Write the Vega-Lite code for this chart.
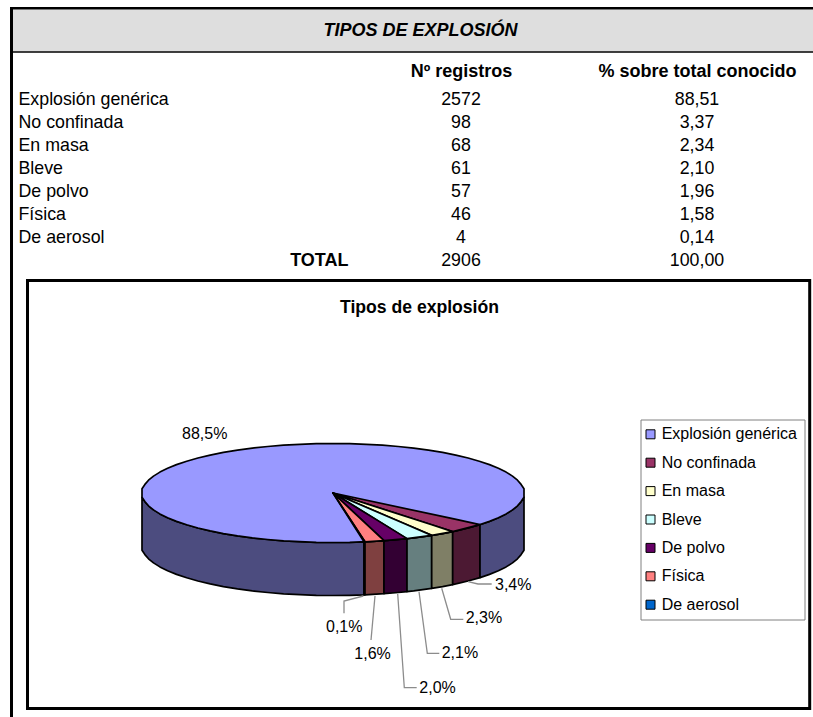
{
  "$schema": "https://vega.github.io/schema/vega-lite/v6.json",
  "width": 813,
  "height": 717,
  "padding": 0,
  "autosize": {"type": "fit", "contains": "padding"},
  "background": "white",
  "config": {
    "view": {"stroke": null},
    "text": {"font": "Liberation Sans", "color": "#000000", "baseline": "alphabetic"}
  },
  "datasets": {
    "tabla": [
      {"tipo": "Explosión genérica", "registros": 2572, "porcentaje": "88,51"},
      {"tipo": "No confinada", "registros": 98, "porcentaje": "3,37"},
      {"tipo": "En masa", "registros": 68, "porcentaje": "2,34"},
      {"tipo": "Bleve", "registros": 61, "porcentaje": "2,10"},
      {"tipo": "De polvo", "registros": 57, "porcentaje": "1,96"},
      {"tipo": "Física", "registros": 46, "porcentaje": "1,58"},
      {"tipo": "De aerosol", "registros": 4, "porcentaje": "0,14"},
      {"tipo": "TOTAL", "registros": 2906, "porcentaje": "100,00"}
    ],
    "lateral": [
      {"tipo": "Explosión genérica", "tramo": "izquierda", "u": 142, "sup": 497.3, "inf": 550.3},
      {"tipo": "Explosión genérica", "tramo": "izquierda", "u": 144.9, "sup": 501.6, "inf": 554.6},
      {"tipo": "Explosión genérica", "tramo": "izquierda", "u": 148.5, "sup": 505.8, "inf": 558.8},
      {"tipo": "Explosión genérica", "tramo": "izquierda", "u": 153.5, "sup": 509.9, "inf": 562.9},
      {"tipo": "Explosión genérica", "tramo": "izquierda", "u": 159.9, "sup": 513.9, "inf": 566.9},
      {"tipo": "Explosión genérica", "tramo": "izquierda", "u": 167.6, "sup": 517.8, "inf": 570.8},
      {"tipo": "Explosión genérica", "tramo": "izquierda", "u": 176.5, "sup": 521.4, "inf": 574.4},
      {"tipo": "Explosión genérica", "tramo": "izquierda", "u": 186.7, "sup": 524.8, "inf": 577.8},
      {"tipo": "Explosión genérica", "tramo": "izquierda", "u": 197.9, "sup": 528, "inf": 581},
      {"tipo": "Explosión genérica", "tramo": "izquierda", "u": 210.2, "sup": 530.9, "inf": 583.9},
      {"tipo": "Explosión genérica", "tramo": "izquierda", "u": 223.4, "sup": 533.6, "inf": 586.6},
      {"tipo": "Explosión genérica", "tramo": "izquierda", "u": 237.5, "sup": 535.9, "inf": 588.9},
      {"tipo": "Explosión genérica", "tramo": "izquierda", "u": 252.3, "sup": 537.9, "inf": 590.9},
      {"tipo": "Explosión genérica", "tramo": "izquierda", "u": 267.7, "sup": 539.5, "inf": 592.5},
      {"tipo": "Explosión genérica", "tramo": "izquierda", "u": 283.6, "sup": 540.8, "inf": 593.8},
      {"tipo": "Explosión genérica", "tramo": "izquierda", "u": 299.8, "sup": 541.7, "inf": 594.7},
      {"tipo": "Explosión genérica", "tramo": "izquierda", "u": 316.3, "sup": 542.3, "inf": 595.3},
      {"tipo": "Explosión genérica", "tramo": "izquierda", "u": 333, "sup": 542.5, "inf": 595.5},
      {"tipo": "Explosión genérica", "tramo": "izquierda", "u": 349.7, "sup": 542.3, "inf": 595.3},
      {"tipo": "Explosión genérica", "tramo": "izquierda", "u": 364, "sup": 541.9, "inf": 594.9},
      {"tipo": "De aerosol", "tramo": "unico", "u": 364, "sup": 541.9, "inf": 594.9},
      {"tipo": "De aerosol", "tramo": "unico", "u": 365, "sup": 541.8, "inf": 594.8},
      {"tipo": "Física", "tramo": "unico", "u": 365, "sup": 541.8, "inf": 594.8},
      {"tipo": "Física", "tramo": "unico", "u": 384, "sup": 540.7, "inf": 593.7},
      {"tipo": "De polvo", "tramo": "unico", "u": 384, "sup": 540.7, "inf": 593.7},
      {"tipo": "De polvo", "tramo": "unico", "u": 398.3, "sup": 539.5, "inf": 592.5},
      {"tipo": "De polvo", "tramo": "unico", "u": 407, "sup": 538.6, "inf": 591.6},
      {"tipo": "Bleve", "tramo": "unico", "u": 407, "sup": 538.6, "inf": 591.6},
      {"tipo": "Bleve", "tramo": "unico", "u": 413.7, "sup": 537.9, "inf": 590.9},
      {"tipo": "Bleve", "tramo": "unico", "u": 431.7, "sup": 535.4, "inf": 588.4},
      {"tipo": "En masa", "tramo": "unico", "u": 431.7, "sup": 535.4, "inf": 588.4},
      {"tipo": "En masa", "tramo": "unico", "u": 442.6, "sup": 533.6, "inf": 586.6},
      {"tipo": "En masa", "tramo": "unico", "u": 452.7, "sup": 531.6, "inf": 584.6},
      {"tipo": "No confinada", "tramo": "unico", "u": 452.7, "sup": 531.6, "inf": 584.6},
      {"tipo": "No confinada", "tramo": "unico", "u": 468.1, "sup": 528, "inf": 581},
      {"tipo": "No confinada", "tramo": "unico", "u": 480, "sup": 524.6, "inf": 577.6},
      {"tipo": "Explosión genérica", "tramo": "derecha", "u": 480, "sup": 524.6, "inf": 577.6},
      {"tipo": "Explosión genérica", "tramo": "derecha", "u": 489.5, "sup": 521.4, "inf": 574.4},
      {"tipo": "Explosión genérica", "tramo": "derecha", "u": 498.4, "sup": 517.8, "inf": 570.8},
      {"tipo": "Explosión genérica", "tramo": "derecha", "u": 506.1, "sup": 513.9, "inf": 566.9},
      {"tipo": "Explosión genérica", "tramo": "derecha", "u": 512.5, "sup": 509.9, "inf": 562.9},
      {"tipo": "Explosión genérica", "tramo": "derecha", "u": 517.5, "sup": 505.8, "inf": 558.8},
      {"tipo": "Explosión genérica", "tramo": "derecha", "u": 521.1, "sup": 501.6, "inf": 554.6},
      {"tipo": "Explosión genérica", "tramo": "derecha", "u": 524, "sup": 497.3, "inf": 550.3}
    ],
    "cara": [
      {"tipo": "Explosión genérica", "u": 142, "sup": 488.7, "inf": 497.3},
      {"tipo": "Explosión genérica", "u": 144.9, "sup": 484.4, "inf": 501.6},
      {"tipo": "Explosión genérica", "u": 148.5, "sup": 480.2, "inf": 505.8},
      {"tipo": "Explosión genérica", "u": 153.5, "sup": 476.1, "inf": 509.9},
      {"tipo": "Explosión genérica", "u": 159.9, "sup": 472.1, "inf": 513.9},
      {"tipo": "Explosión genérica", "u": 167.6, "sup": 468.2, "inf": 517.8},
      {"tipo": "Explosión genérica", "u": 176.5, "sup": 464.6, "inf": 521.4},
      {"tipo": "Explosión genérica", "u": 186.7, "sup": 461.2, "inf": 524.8},
      {"tipo": "Explosión genérica", "u": 197.9, "sup": 458, "inf": 528},
      {"tipo": "Explosión genérica", "u": 210.2, "sup": 455.1, "inf": 530.9},
      {"tipo": "Explosión genérica", "u": 223.4, "sup": 452.4, "inf": 533.6},
      {"tipo": "Explosión genérica", "u": 237.5, "sup": 450.1, "inf": 535.9},
      {"tipo": "Explosión genérica", "u": 252.3, "sup": 448.1, "inf": 537.9},
      {"tipo": "Explosión genérica", "u": 267.7, "sup": 446.5, "inf": 539.5},
      {"tipo": "Explosión genérica", "u": 283.6, "sup": 445.2, "inf": 540.8},
      {"tipo": "Explosión genérica", "u": 299.8, "sup": 444.3, "inf": 541.7},
      {"tipo": "Explosión genérica", "u": 316.3, "sup": 443.7, "inf": 542.3},
      {"tipo": "Explosión genérica", "u": 333, "sup": 443.5, "inf": 542.5},
      {"tipo": "Explosión genérica", "u": 349.7, "sup": 443.7, "inf": 542.3},
      {"tipo": "Explosión genérica", "u": 366.2, "sup": 444.3, "inf": 541.7},
      {"tipo": "Explosión genérica", "u": 382.4, "sup": 445.2, "inf": 540.8},
      {"tipo": "Explosión genérica", "u": 398.3, "sup": 446.5, "inf": 539.5},
      {"tipo": "Explosión genérica", "u": 413.7, "sup": 448.1, "inf": 537.9},
      {"tipo": "Explosión genérica", "u": 428.5, "sup": 450.1, "inf": 535.9},
      {"tipo": "Explosión genérica", "u": 442.6, "sup": 452.4, "inf": 533.6},
      {"tipo": "Explosión genérica", "u": 455.8, "sup": 455.1, "inf": 530.9},
      {"tipo": "Explosión genérica", "u": 468.1, "sup": 458, "inf": 528},
      {"tipo": "Explosión genérica", "u": 479.3, "sup": 461.2, "inf": 524.8},
      {"tipo": "Explosión genérica", "u": 489.5, "sup": 464.6, "inf": 521.4},
      {"tipo": "Explosión genérica", "u": 498.4, "sup": 468.2, "inf": 517.8},
      {"tipo": "Explosión genérica", "u": 506.1, "sup": 472.1, "inf": 513.9},
      {"tipo": "Explosión genérica", "u": 512.5, "sup": 476.1, "inf": 509.9},
      {"tipo": "Explosión genérica", "u": 517.5, "sup": 480.2, "inf": 505.8},
      {"tipo": "Explosión genérica", "u": 521.1, "sup": 484.4, "inf": 501.6},
      {"tipo": "Explosión genérica", "u": 524, "sup": 488.7, "inf": 497.3},
      {"tipo": "No confinada", "u": 333, "sup": 493, "inf": 493},
      {"tipo": "No confinada", "u": 452.7, "sup": 518.7, "inf": 531.6},
      {"tipo": "No confinada", "u": 480, "sup": 524.6, "inf": 524.6},
      {"tipo": "En masa", "u": 333, "sup": 493, "inf": 493},
      {"tipo": "En masa", "u": 431.7, "sup": 524.8, "inf": 535.4},
      {"tipo": "En masa", "u": 452.7, "sup": 531.6, "inf": 531.6},
      {"tipo": "Bleve", "u": 333, "sup": 493, "inf": 493},
      {"tipo": "Bleve", "u": 407, "sup": 524.8, "inf": 538.6},
      {"tipo": "Bleve", "u": 431.7, "sup": 535.4, "inf": 535.4},
      {"tipo": "De polvo", "u": 333, "sup": 493, "inf": 493},
      {"tipo": "De polvo", "u": 384, "sup": 524.4, "inf": 540.7},
      {"tipo": "De polvo", "u": 407, "sup": 538.6, "inf": 538.6},
      {"tipo": "Física", "u": 333, "sup": 493, "inf": 493},
      {"tipo": "Física", "u": 365, "sup": 522.9, "inf": 541.8},
      {"tipo": "Física", "u": 384, "sup": 540.7, "inf": 540.7},
      {"tipo": "De aerosol", "u": 333, "sup": 493, "inf": 493},
      {"tipo": "De aerosol", "u": 364, "sup": 540.3, "inf": 541.9},
      {"tipo": "De aerosol", "u": 365, "sup": 541.8, "inf": 541.8}
    ],
    "guias": [
      {"tipo": "No confinada", "orden": 1, "u": 468, "v": 581.7},
      {"tipo": "No confinada", "orden": 2, "u": 478, "v": 584},
      {"tipo": "No confinada", "orden": 3, "u": 491.7, "v": 584},
      {"tipo": "En masa", "orden": 1, "u": 441.7, "v": 588.3},
      {"tipo": "En masa", "orden": 2, "u": 450.7, "v": 619.3},
      {"tipo": "En masa", "orden": 3, "u": 463.3, "v": 619.3},
      {"tipo": "Bleve", "orden": 1, "u": 419, "v": 591.7},
      {"tipo": "Bleve", "orden": 2, "u": 427.3, "v": 653.3},
      {"tipo": "Bleve", "orden": 3, "u": 439.3, "v": 653.3},
      {"tipo": "De polvo", "orden": 1, "u": 397.7, "v": 594},
      {"tipo": "De polvo", "orden": 2, "u": 404.3, "v": 687.7},
      {"tipo": "De polvo", "orden": 3, "u": 416.7, "v": 687.7},
      {"tipo": "Física", "orden": 1, "u": 375, "v": 596},
      {"tipo": "Física", "orden": 2, "u": 371, "v": 640},
      {"tipo": "De aerosol", "orden": 1, "u": 363.3, "v": 596},
      {"tipo": "De aerosol", "orden": 2, "u": 344, "v": 601},
      {"tipo": "De aerosol", "orden": 3, "u": 344, "v": 613.3}
    ],
    "etiquetas": [
      {"tipo": "Explosión genérica", "etiqueta": "88,5%", "u": 182, "v": 439.3},
      {"tipo": "No confinada", "etiqueta": "3,4%", "u": 495, "v": 589.5},
      {"tipo": "En masa", "etiqueta": "2,3%", "u": 465.7, "v": 623.3},
      {"tipo": "Bleve", "etiqueta": "2,1%", "u": 441.7, "v": 657.7},
      {"tipo": "De polvo", "etiqueta": "2,0%", "u": 419.3, "v": 692.7},
      {"tipo": "Física", "etiqueta": "1,6%", "u": 354.3, "v": 659.3},
      {"tipo": "De aerosol", "etiqueta": "0,1%", "u": 326, "v": 632.3}
    ]
  },
  "resolve": {"scale": {"x": "independent", "y": "independent"}},
  "layer": [
    {
      "layer": [
        {
          "description": "Banda gris de la cabecera",
          "data": {"values": [{"u": 13, "u2": 813, "v": 9.5, "v2": 51.5}]},
          "mark": {"type": "rect", "fill": "#DEDEDE"},
          "encoding": {
            "x": {"field": "u", "type": "quantitative", "axis": null, "scale": {"domain": [0, 813], "nice": false, "zero": false}},
            "x2": {"field": "u2"},
            "y": {"field": "v", "type": "quantitative", "axis": null, "scale": {"domain": [717, 0], "nice": false, "zero": false}},
            "y2": {"field": "v2"}
          }
        },
        {
          "description": "Bordes negros de la tabla",
          "data": {"values": [
            {"u": 10, "u2": 813, "v": 7, "v2": 9.5},
            {"u": 10, "u2": 13, "v": 7, "v2": 717},
            {"u": 13, "u2": 813, "v": 51.3, "v2": 52.8}
          ]},
          "mark": {"type": "rect", "fill": "#000000"},
          "encoding": {
            "x": {"field": "u", "type": "quantitative"},
            "x2": {"field": "u2"},
            "y": {"field": "v", "type": "quantitative"},
            "y2": {"field": "v2"}
          }
        },
        {
          "description": "Marco del gráfico",
          "data": {"values": [{"u": 27.5, "u2": 809.7, "v": 280.5, "v2": 708.5}]},
          "mark": {"type": "rect", "filled": false, "stroke": "#000000", "strokeWidth": 3},
          "encoding": {
            "x": {"field": "u", "type": "quantitative"},
            "x2": {"field": "u2"},
            "y": {"field": "v", "type": "quantitative"},
            "y2": {"field": "v2"}
          }
        },
        {
          "description": "Pared lateral de la tarta",
          "data": {"name": "lateral"},
          "mark": {"type": "area", "stroke": "#000000", "strokeWidth": 1.7, "strokeJoin": "round"},
          "encoding": {
            "x": {"field": "u", "type": "quantitative"},
            "y": {"field": "sup", "type": "quantitative"},
            "y2": {"field": "inf"},
            "detail": {"field": "tramo"},
            "fill": {
              "field": "tipo",
              "type": "nominal",
              "legend": null,
              "scale": {
                "domain": ["De aerosol", "Física", "De polvo", "Bleve", "En masa", "No confinada", "Explosión genérica"],
                "range": ["#003366", "#7F4040", "#330033", "#667F7F", "#7F7F66", "#4C1933", "#4C4C7F"]
              }
            }
          }
        },
        {
          "description": "Cara superior de la tarta y leyenda",
          "data": {"name": "cara"},
          "mark": {"type": "area", "stroke": "#000000", "strokeWidth": 1.7, "strokeJoin": "round"},
          "encoding": {
            "x": {"field": "u", "type": "quantitative"},
            "y": {"field": "sup", "type": "quantitative"},
            "y2": {"field": "inf"},
            "color": {
              "field": "tipo",
              "type": "nominal",
              "scale": {
                "domain": ["Explosión genérica", "No confinada", "En masa", "Bleve", "De polvo", "Física", "De aerosol"],
                "range": ["#9999FF", "#993366", "#FFFFCC", "#CCFFFF", "#660066", "#FF8080", "#0066CC"]
              },
              "legend": {
                "orient": "none",
                "legendX": 640.5,
                "legendY": 419.5,
                "zindex": 1,
                "title": null,
                "symbolType": "square",
                "symbolSize": 81,
                "symbolOffset": -4.8,
                "symbolStrokeColor": "#000000",
                "symbolStrokeWidth": 1,
                "symbolOpacity": 1,
                "labelFont": "Liberation Sans",
                "labelFontSize": 16,
                "labelColor": "#000000",
                "labelOffset": 3.2,
                "labelLimit": 200,
                "rowPadding": 12.4,
                "padding": 6.8,
                "strokeColor": "#808080",
                "fillColor": "#FFFFFF"
              }
            }
          }
        },
        {
          "description": "Líneas guía de las etiquetas",
          "data": {"name": "guias"},
          "mark": {"type": "line", "stroke": "#8C8C8C", "strokeWidth": 1.3},
          "encoding": {
            "x": {"field": "u", "type": "quantitative"},
            "y": {"field": "v", "type": "quantitative"},
            "detail": {"field": "tipo"},
            "order": {"field": "orden"}
          }
        },
        {
          "description": "Etiquetas de porcentaje",
          "data": {"name": "etiquetas"},
          "mark": {"type": "text", "align": "left", "fontSize": 16},
          "encoding": {
            "x": {"field": "u", "type": "quantitative"},
            "y": {"field": "v", "type": "quantitative"},
            "text": {"field": "etiqueta"}
          }
        },
        {
          "description": "Título de la tabla",
          "data": {"values": [{"t": "TIPOS DE EXPLOSIÓN"}]},
          "mark": {"type": "text", "align": "center", "fontSize": 18, "fontWeight": "bold", "fontStyle": "italic"},
          "encoding": {
            "x": {"datum": 420.5, "type": "quantitative"},
            "y": {"datum": 35.5, "type": "quantitative"},
            "text": {"field": "t"}
          }
        },
        {
          "description": "Título del gráfico",
          "data": {"values": [{"t": "Tipos de explosión"}]},
          "mark": {"type": "text", "align": "center", "fontSize": 17.6, "fontWeight": "bold"},
          "encoding": {
            "x": {"datum": 419.5, "type": "quantitative"},
            "y": {"datum": 312.5, "type": "quantitative"},
            "text": {"field": "t"}
          }
        },
        {
          "description": "Encabezados de columna",
          "data": {"values": [
            {"t": "Nº registros", "u": 461.5},
            {"t": "% sobre total conocido", "u": 697.5}
          ]},
          "mark": {"type": "text", "align": "center", "fontSize": 18, "fontWeight": "bold"},
          "encoding": {
            "x": {"field": "u", "type": "quantitative"},
            "y": {"datum": 76.7, "type": "quantitative"},
            "text": {"field": "t"}
          }
        }
      ]
    },
    {
      "data": {"name": "tabla"},
      "encoding": {
        "y": {
          "field": "tipo",
          "type": "nominal",
          "axis": null,
          "sort": null,
          "scale": {
            "type": "point",
            "domain": ["Explosión genérica", "No confinada", "En masa", "Bleve", "De polvo", "Física", "De aerosol", "TOTAL"],
            "range": [105, 266],
            "padding": 0
          }
        }
      },
      "layer": [
        {
          "description": "Nombres de cada tipo",
          "transform": [{"filter": "datum.tipo !== 'TOTAL'"}],
          "mark": {"type": "text", "align": "left", "fontSize": 17.8},
          "encoding": {
            "x": {"datum": 18.5, "type": "quantitative", "axis": null, "scale": {"domain": [0, 813], "nice": false, "zero": false}},
            "text": {"field": "tipo"}
          }
        },
        {
          "description": "Fila de total",
          "transform": [{"filter": "datum.tipo === 'TOTAL'"}],
          "mark": {"type": "text", "align": "right", "fontSize": 18, "fontWeight": "bold"},
          "encoding": {
            "x": {"datum": 348.5, "type": "quantitative"},
            "text": {"field": "tipo"}
          }
        },
        {
          "description": "Número de registros",
          "mark": {"type": "text", "align": "center", "fontSize": 17.8},
          "encoding": {
            "x": {"datum": 461, "type": "quantitative"},
            "text": {"field": "registros", "type": "quantitative", "format": "d"}
          }
        },
        {
          "description": "Porcentaje sobre el total conocido",
          "mark": {"type": "text", "align": "center", "fontSize": 17.8},
          "encoding": {
            "x": {"datum": 697, "type": "quantitative"},
            "text": {"field": "porcentaje"}
          }
        }
      ]
    }
  ]
}
